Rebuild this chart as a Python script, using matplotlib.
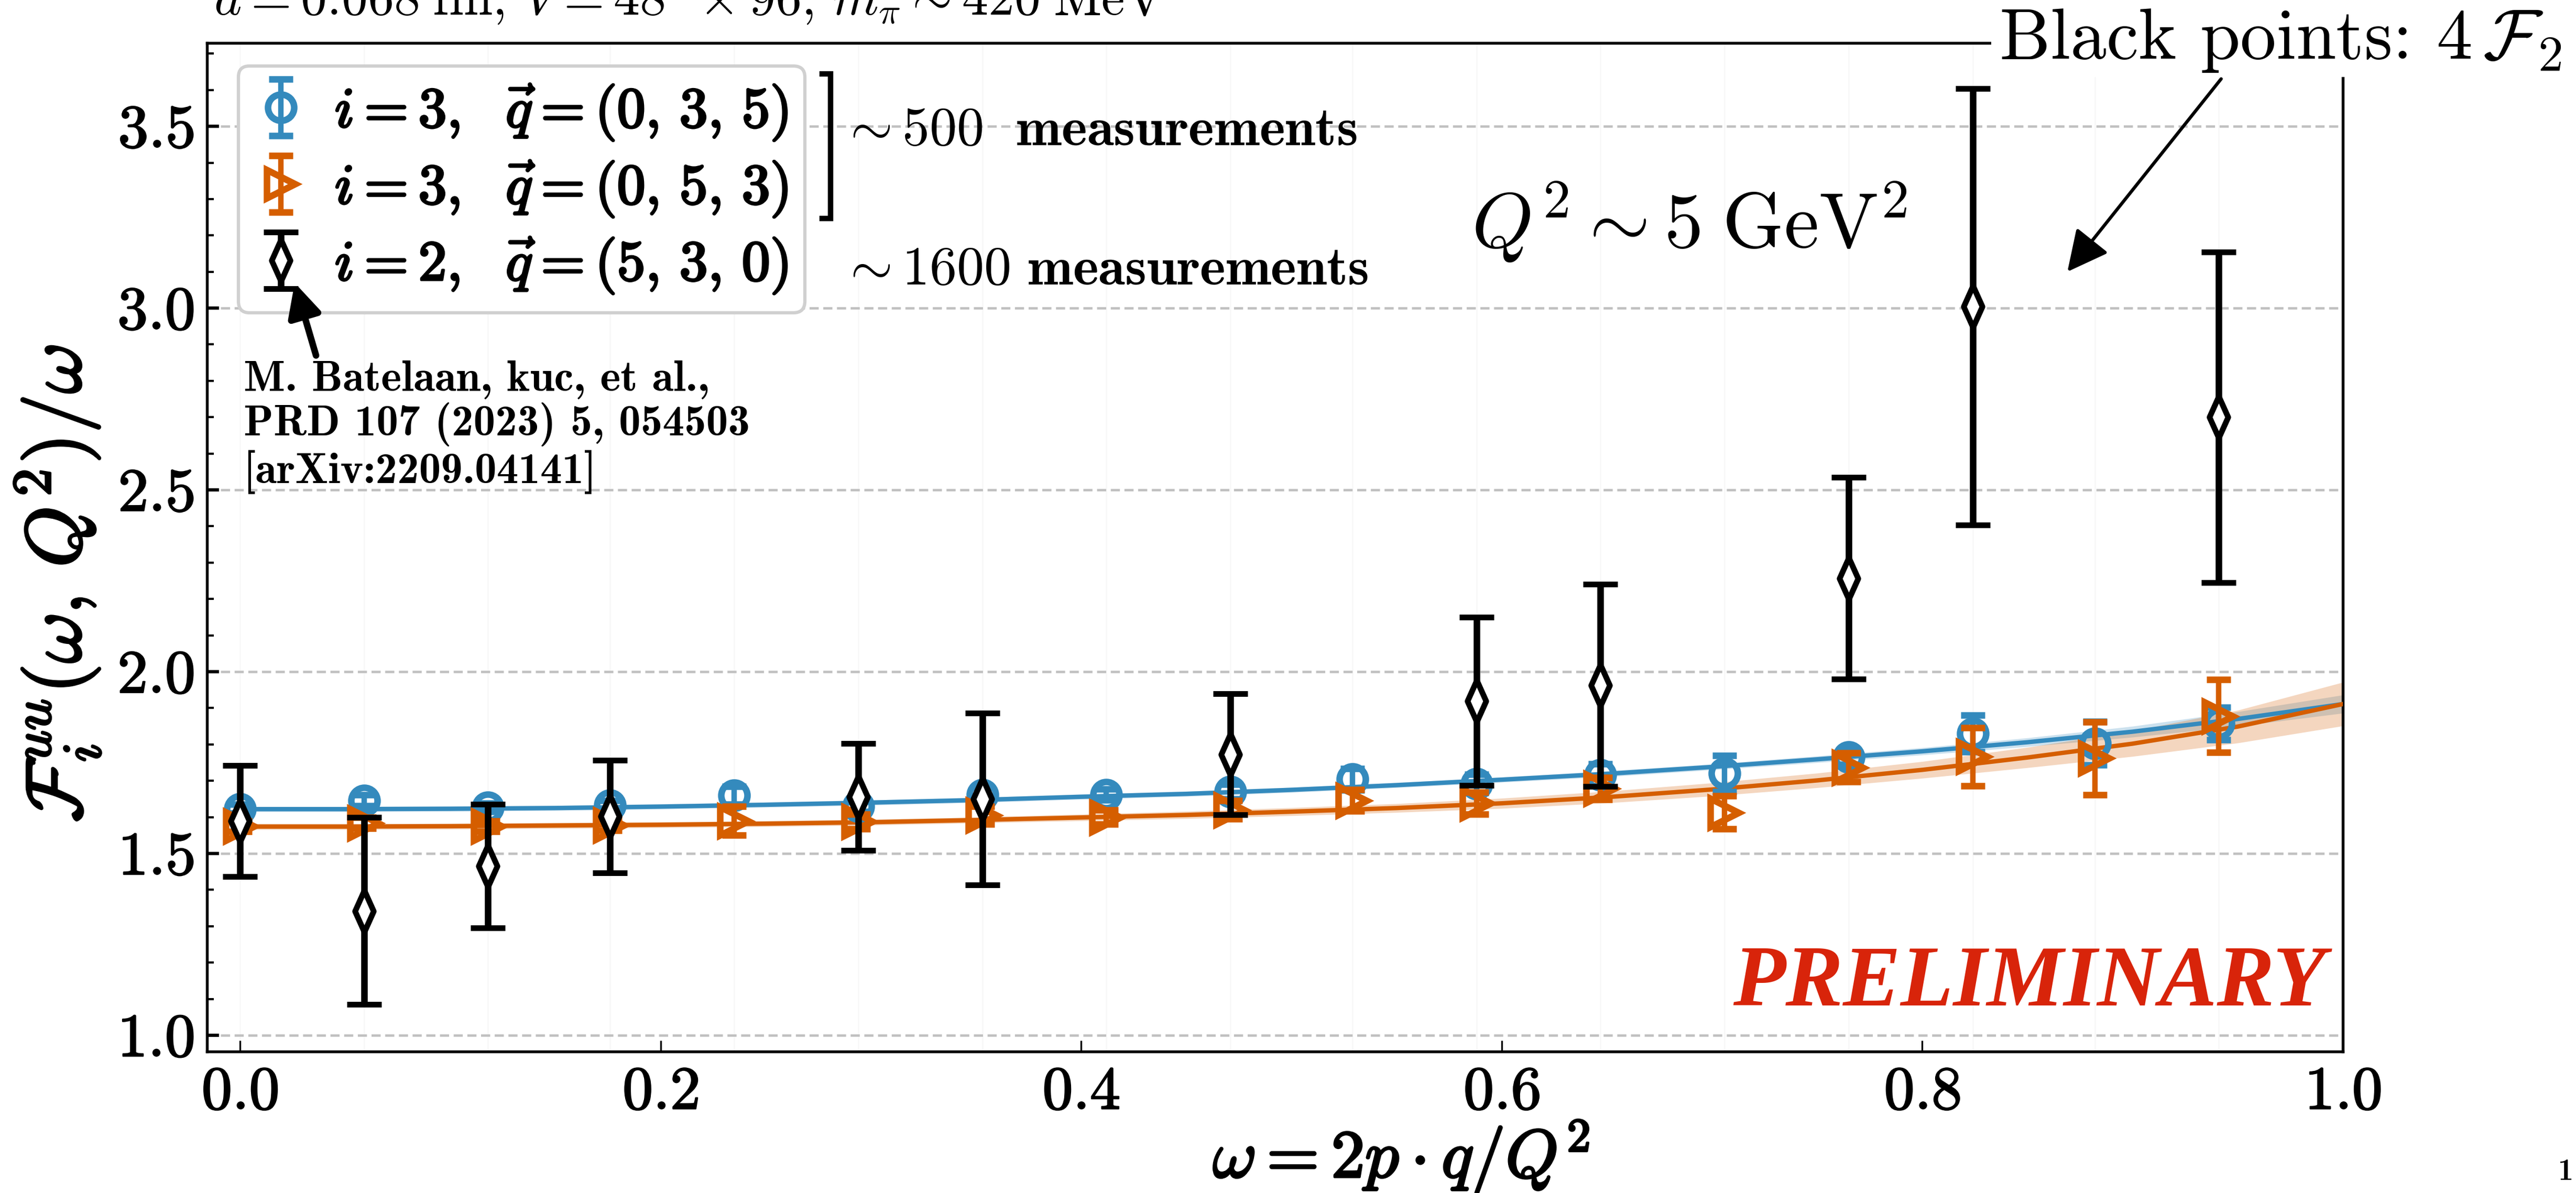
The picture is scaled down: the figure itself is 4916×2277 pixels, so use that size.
"""Structure function F_i^uu(omega, Q^2)/omega vs omega, three lattice channels + fits."""

import matplotlib
matplotlib.use("Agg")
import matplotlib.pyplot as plt
import matplotlib.patheffects as pe
from matplotlib.patches import Rectangle
from matplotlib.ticker import MultipleLocator

# ---- data -----------------------------------------------------------------
OMEGA = [0.000, 0.059, 0.118, 0.176, 0.235, 0.294, 0.353, 0.412, 0.471,
         0.529, 0.588, 0.647, 0.706, 0.765, 0.824, 0.882, 0.941]

BLUE_Y = [1.623, 1.646, 1.627, 1.633, 1.660, 1.630, 1.662, 1.662, 1.670,
          1.704, 1.692, 1.716, 1.720, 1.765, 1.830, 1.803, 1.857]
BLUE_ERR = [0.012, 0.015, 0.012, 0.012, 0.025, 0.015, 0.020, 0.015, 0.020,
            0.030, 0.025, 0.030, 0.050, 0.020, 0.050, 0.060, 0.045]

ORANGE_Y = [1.575, 1.584, 1.575, 1.578, 1.590, 1.588, 1.605, 1.600, 1.620,
            1.646, 1.638, 1.679, 1.613, 1.737, 1.766, 1.762, 1.878]
ORANGE_ERR = [0.015, 0.015, 0.015, 0.015, 0.040, 0.020, 0.025, 0.020, 0.025,
              0.030, 0.030, 0.030, 0.045, 0.040, 0.080, 0.100, 0.100]

BLACK_OMEGA = [0.000, 0.059, 0.118, 0.176, 0.294, 0.353, 0.471, 0.588,
               0.647, 0.765, 0.824, 0.941]
BLACK_Y = [1.589, 1.342, 1.466, 1.602, 1.656, 1.650, 1.773, 1.919,
           1.963, 2.257, 3.004, 2.700]
BLACK_ERR = [0.153, 0.257, 0.170, 0.155, 0.147, 0.236, 0.167, 0.231,
             0.278, 0.277, 0.600, 0.455]

FIT_OMEGA = [0.00, 0.05, 0.10, 0.15, 0.20, 0.25, 0.30, 0.35, 0.40, 0.45, 0.50,
             0.55, 0.60, 0.65, 0.70, 0.75, 0.80, 0.85, 0.90, 0.95, 1.00]
BLUE_FIT = [1.622, 1.622, 1.623, 1.625, 1.629, 1.634, 1.640, 1.647, 1.656,
            1.664, 1.675, 1.688, 1.703, 1.719, 1.738, 1.759, 1.781, 1.806,
            1.835, 1.870, 1.911]
BLUE_FIT_ERR = [0.007, 0.007, 0.007, 0.007, 0.007, 0.007, 0.007, 0.007,
                0.007, 0.007, 0.007, 0.007, 0.007, 0.008, 0.008, 0.009,
                0.010, 0.012, 0.015, 0.020, 0.025]
ORANGE_FIT = [1.574, 1.574, 1.575, 1.577, 1.579, 1.582, 1.586, 1.592, 1.599,
              1.606, 1.615, 1.625, 1.638, 1.655, 1.676, 1.701, 1.730, 1.764,
              1.802, 1.849, 1.911]
ORANGE_FIT_ERR = [0.008, 0.008, 0.008, 0.008, 0.008, 0.008, 0.008, 0.008,
                  0.009, 0.010, 0.011, 0.012, 0.014, 0.016, 0.018, 0.020,
                  0.023, 0.028, 0.035, 0.045, 0.060]

LABELS = [r"$i=3,\ \ \vec{q}=(0,\,3,\,5)$",
          r"$i=3,\ \ \vec{q}=(0,\,5,\,3)$",
          r"$i=2,\ \ \vec{q}=(5,\,3,\,0)$"]

BLUE = "#348ABD"
ORANGE = "#D55E00"
RED = "#D8240A"
GRID = "#C0C0C0"

plt.rcParams["mathtext.fontset"] = "cm"
plt.rcParams["font.family"] = "serif"
plt.rcParams["font.serif"] = ["cmr10"]
plt.rcParams["axes.formatter.use_mathtext"] = True
plt.rcParams["axes.unicode_minus"] = False

BOLD = [pe.withStroke(linewidth=1.0, foreground="black")]
SEMI = [pe.withStroke(linewidth=0.6, foreground="black")]
TALL_DIAMOND = [(0, 1), (0.45, 0), (0, -1), (-0.45, 0), (0, 1)]

W, H = 4916, 2277
fig = plt.figure(figsize=(W / 300, H / 300), dpi=300)
ax = fig.add_axes([0.0804, 0.1185, 0.8291, 0.8457])

# faint vertical guides at the data omegas
for w in OMEGA:
    ax.axvline(w, color="0.9", lw=0.6, alpha=0.3, zorder=0)

# fit bands + central curves
lo = [m - e for m, e in zip(BLUE_FIT, BLUE_FIT_ERR)]
hi = [m + e for m, e in zip(BLUE_FIT, BLUE_FIT_ERR)]
ax.fill_between(FIT_OMEGA, lo, hi, color=BLUE, alpha=0.25, lw=0, zorder=2)
ax.plot(FIT_OMEGA, BLUE_FIT, color=BLUE, lw=2.0, zorder=3)
lo = [m - e for m, e in zip(ORANGE_FIT, ORANGE_FIT_ERR)]
hi = [m + e for m, e in zip(ORANGE_FIT, ORANGE_FIT_ERR)]
ax.fill_between(FIT_OMEGA, lo, hi, color=ORANGE, alpha=0.25, lw=0, zorder=2)
ax.plot(FIT_OMEGA, ORANGE_FIT, color=ORANGE, lw=2.0, zorder=3)

h1 = ax.errorbar(OMEGA, BLUE_Y, yerr=BLUE_ERR, fmt="o", color=BLUE,
                 mfc="none", mec=BLUE, ms=12, mew=3, elinewidth=2.5,
                 capsize=5.5, capthick=3, zorder=5, label=LABELS[0])
h2 = ax.errorbar(OMEGA, ORANGE_Y, yerr=ORANGE_ERR, fmt=">", color=ORANGE,
                 mfc="none", mec=ORANGE, ms=13, mew=3, elinewidth=2.5,
                 capsize=5.5, capthick=3, zorder=6, label=LABELS[1])
h3 = ax.errorbar(BLACK_OMEGA, BLACK_Y, yerr=BLACK_ERR, ls="none",
                 marker=TALL_DIAMOND, ms=19, mfc="white", mec="black",
                 mew=2.6, color="black", elinewidth=3, capsize=8,
                 capthick=3.2, zorder=7, label=LABELS[2])

ax.set_xlim(-0.0156, 1.0)
ax.set_ylim(0.955, 3.73)
ax.xaxis.set_major_locator(MultipleLocator(0.2))
ax.yaxis.set_major_locator(MultipleLocator(0.5))
ax.yaxis.set_minor_locator(MultipleLocator(0.1))
ax.tick_params(axis="both", which="both", direction="in", labelsize=28)
ax.tick_params(axis="x", which="major", length=5, width=0.8, pad=7)
ax.tick_params(axis="y", which="major", length=5.5, width=1.5, pad=6)
ax.tick_params(axis="y", which="minor", length=3, width=1.0)
for lbl in ax.get_xticklabels() + ax.get_yticklabels():
    lbl.set_path_effects(SEMI)
for s in ax.spines.values():
    s.set_linewidth(1.3)
ax.yaxis.grid(True, which="major", color=GRID, lw=1.1, ls=(0, (3.8, 1.9)))
ax.set_axisbelow(True)

ax.set_xlabel(r"$\omega = 2p\cdot q/Q^2$", fontsize=31, va="top",
              path_effects=BOLD)
ax.xaxis.set_label_coords(0.559, -0.066)
ax.set_ylabel(r"$\mathcal{F}_i^{uu}(\omega,\,Q^2)/\omega$", fontsize=36,
              path_effects=BOLD)
ax.yaxis.set_label_coords(-0.049, 0.464)

leg = ax.legend(handles=[h1, h2, h3], loc="upper left",
                bbox_to_anchor=(0.0146, 0.977), borderaxespad=0,
                fontsize=26, handlelength=0.9, handletextpad=0.5,
                labelspacing=0.3, borderpad=0.3, fancybox=True,
                framealpha=1, edgecolor="#D0D0D0")
leg.get_frame().set_linewidth(1.5)
for t in leg.get_texts():
    t.set_path_effects(BOLD)

# bracket grouping the two i=3 channels
bx, by0, by1 = 0.292, 0.969, 0.826
ax.plot([bx - 0.004, bx, bx, bx - 0.004], [by0, by0, by1, by1],
        color="black", lw=2.5, transform=ax.transAxes, clip_on=False,
        zorder=8, solid_joinstyle="miter")
ax.text(0.2965, 0.912, r"$\sim 500\ \ \mathbf{measurements}$", fontsize=25,
        transform=ax.transAxes, va="center", ha="left")
ax.text(0.2965, 0.774, r"$\sim 1600\ \mathbf{measurements}$", fontsize=25,
        transform=ax.transAxes, va="center", ha="left")

ax.text(0.694, 0.822, r"$Q^2 \sim 5\;\mathrm{GeV}^2$", fontsize=36,
        transform=ax.transAxes, ha="center", va="center")

ax.text(0.017, 0.685,
        "M. Batelaan, kuc, et al.,\nPRD 107 (2023) 5, 054503\n[arXiv:2209.04141]",
        family="cmb10", fontsize=20, transform=ax.transAxes, va="top",
        ha="left", linespacing=1.1)
ax.annotate("", xy=(0.041, 0.762), xycoords="axes fraction",
            xytext=(0.051, 0.690), textcoords="axes fraction",
            arrowprops=dict(arrowstyle="-|>", color="black", lw=3,
                            mutation_scale=32, shrinkA=0, shrinkB=0),
            zorder=12)

ax.text(0.992, 0.046, "PRELIMINARY", family="Liberation Serif",
        style="italic", weight="bold", fontsize=39.5, color=RED,
        transform=ax.transAxes, ha="right", va="baseline")

# top-right label sits on a white patch that hides the frame corner
fig.patches.append(Rectangle((0.773, 1 - 47 / 726), 0.3, 0.1,
                             transform=fig.transFigure, facecolor="white",
                             edgecolor="none", zorder=5))
fig.text(0.776, 0.966, r"Black points: $4\,\mathcal{F}_2$", fontsize=33,
         ha="left", va="center", zorder=6)
ax.annotate("", xy=(0.869, 3.10), xycoords="data",
            xytext=(1352 / 1568, 1 - 48 / 726), textcoords="figure fraction",
            arrowprops=dict(arrowstyle="-|>", color="black", lw=1.5,
                            mutation_scale=40, shrinkA=0, shrinkB=0),
            annotation_clip=False, zorder=9)

fig.text(0.083, 0.988,
         r"$a = 0.068\;\mathrm{fm},\, V = 48^3\times 96,\, m_\pi \sim 420\;\mathrm{MeV}$",
         fontsize=24, ha="left", va="baseline")
fig.text(0.999, 0.011, "1", family="cmb10", fontsize=14, ha="right",
         va="baseline")

fig.savefig("out.png", dpi=300)
